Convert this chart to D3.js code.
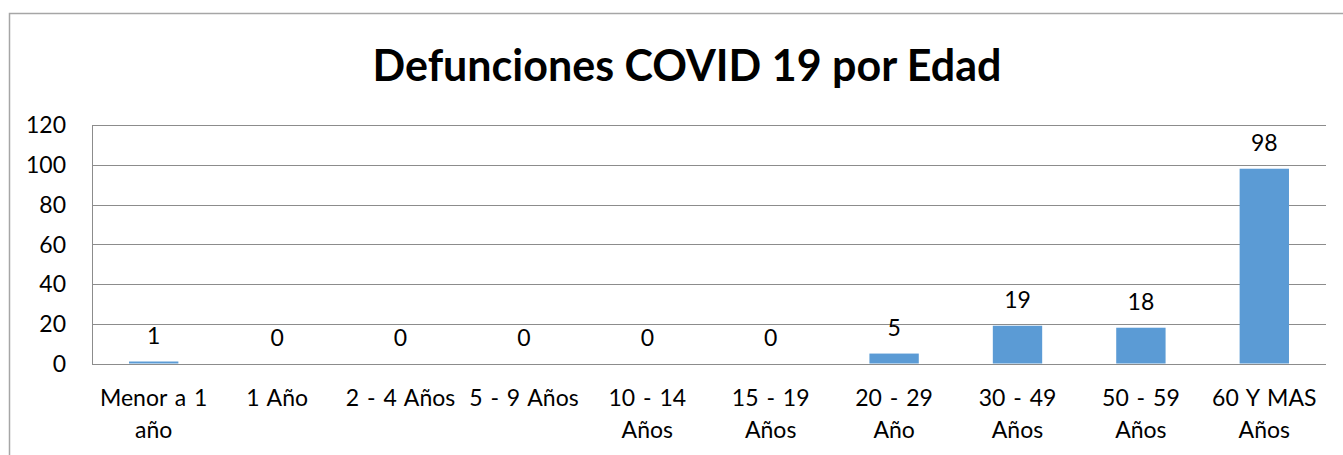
<!DOCTYPE html>
<html lang="es">
<head>
  <meta charset="utf-8">
  <title>Defunciones COVID 19 por Edad</title>
  <script src="https://d3js.org/d3.v7.min.js"></script>
  <style>
    body { margin: 0; background: #fff; }
    svg text { font-family: Lato, "Open Sans", sans-serif; fill: #000; }
  </style>
</head>
<body>
<svg id="chart" width="1343" height="455"></svg>
<script>
// datos
var categorias = [
  ["Menor a 1", "año"], ["1 Año"], ["2 - 4 Años"], ["5 - 9 Años"],
  ["10 - 14", "Años"], ["15 - 19", "Años"], ["20 - 29", "Año"],
  ["30 - 49", "Años"], ["50 - 59", "Años"], ["60 Y MAS", "Años"]
];
var defunciones = [1, 0, 0, 0, 0, 0, 5, 19, 18, 98];
var ticksY = [0, 20, 40, 60, 80, 100, 120];

var svg = d3.select("#chart");

// marco exterior
svg.append("rect")
  .attr("x", 9.5).attr("y", 13.5)
  .attr("width", 1400).attr("height", 500)
  .attr("fill", "none").attr("stroke", "#a6a6a6").attr("stroke-width", 1.5);

var pLeft = 92, pRight = 1326, pTop = 125, pBottom = 363.5;

var x = d3.scaleBand()
  .domain(d3.range(categorias.length))
  .range([pLeft, pRight])
  .paddingInner(0.6).paddingOuter(0.3);

var y = d3.scaleLinear().domain([0, 120]).range([pBottom, pTop]);

// rejilla
svg.append("g").selectAll("line")
  .data(ticksY)
  .enter().append("line")
  .attr("x1", pLeft).attr("x2", pRight)
  .attr("y1", function(d) { return Math.round(y(d)) + 0.5; })
  .attr("y2", function(d) { return Math.round(y(d)) + 0.5; })
  .attr("stroke", "#8c8c8c").attr("stroke-width", 1);

// eje vertical
svg.append("line")
  .attr("x1", pLeft + 0.5).attr("x2", pLeft + 0.5)
  .attr("y1", Math.round(y(120)) + 0.5).attr("y2", Math.round(y(0)) + 0.5)
  .attr("stroke", "#8c8c8c");

// etiquetas eje y
svg.append("g").selectAll("text")
  .data(ticksY)
  .enter().append("text")
  .attr("x", 66)
  .attr("y", function(d) { return y(d); })
  .attr("dy", "0.36em")
  .attr("text-anchor", "end")
  .style("font-size", "23px")
  .text(function(d) { return d; });

// barras
svg.append("g").selectAll("rect")
  .data(defunciones)
  .enter().append("rect")
  .attr("x", function(d, i) { return x(i); })
  .attr("width", x.bandwidth())
  .attr("y", function(d) { return y(d); })
  .attr("height", function(d) { return y(0) - y(d); })
  .attr("fill", "#5b9bd5");

// valores
svg.append("g").selectAll("text")
  .data(defunciones)
  .enter().append("text")
  .attr("x", function(d, i) { return x(i) + x.bandwidth() / 2; })
  .attr("y", function(d) { return y(d) - 18; })
  .attr("text-anchor", "middle")
  .style("font-size", "23px")
  .text(function(d) { return d; });

// categorias
var cat = svg.append("g").selectAll("text")
  .data(categorias)
  .enter().append("text")
  .attr("text-anchor", "middle")
  .style("font-size", "23px")
  .style("word-spacing", "2px");
cat.selectAll("tspan")
  .data(function(d, i) { return d.map(function(t) { return {t: t, i: i}; }); })
  .enter().append("tspan")
  .attr("x", function(d) { return x(d.i) + x.bandwidth() / 2; })
  .attr("y", function(d, j) { return 406 + j * 32; })
  .text(function(d) { return d.t; });

// titulo
svg.append("text")
  .attr("x", 687).attr("y", 81)
  .attr("text-anchor", "middle")
  .style("font-size", "43px").style("font-weight", "bold")
  .text("Defunciones COVID 19 por Edad");
</script>
</body>
</html>
